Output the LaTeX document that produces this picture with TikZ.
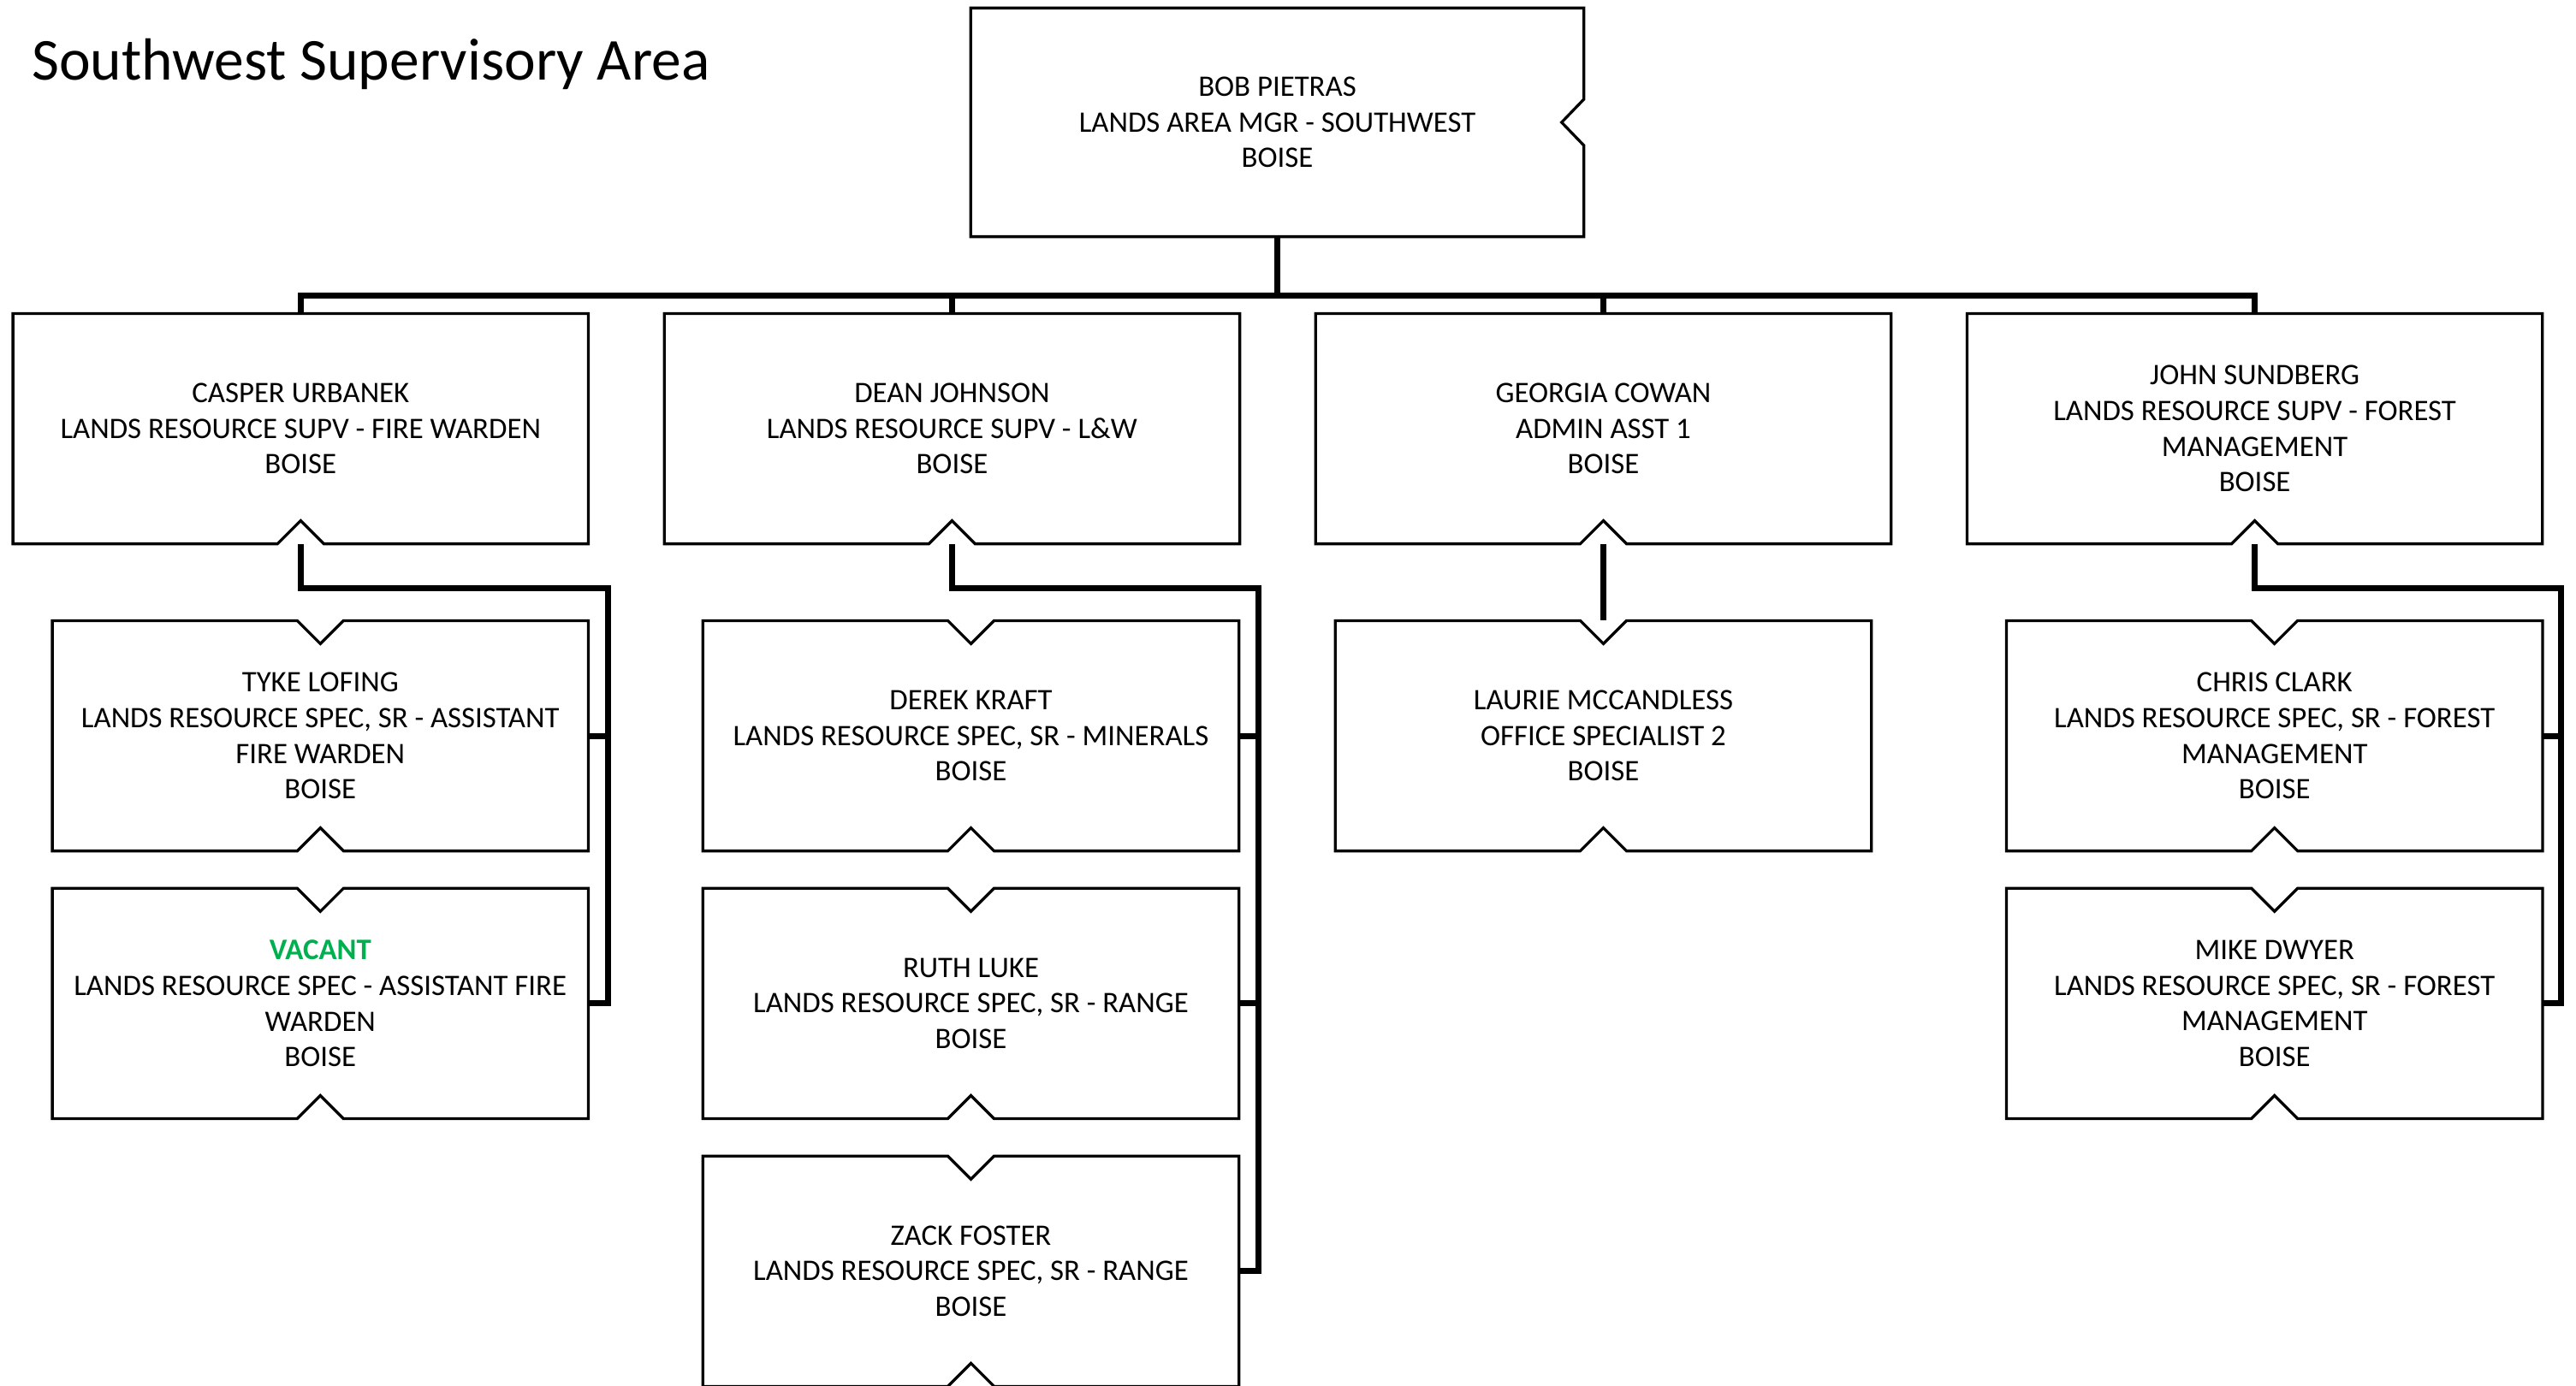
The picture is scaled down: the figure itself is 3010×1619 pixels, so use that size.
\documentclass[tikz,border=0pt]{standalone}
\usepackage{fontspec}
\setmainfont{Carlito}
\usetikzlibrary{calc}
\definecolor{vacgreen}{HTML}{00B050}
\newcommand\boxfont{\fontsize{34.8}{41.7}\selectfont}
\tikzset{
  orgbox/.style={inner sep=0pt, align=center, font=\boxfont, text=black},
  lvltwo/.style={orgbox, minimum width=672pt, minimum height=268.8pt},
  lvlthree/.style={orgbox, minimum width=626pt, minimum height=268.8pt},
  boxline/.style={draw=black, line width=3.3pt, line join=miter},
  conn/.style={draw=black, line width=7pt, line join=miter},
}
\newcommand\outlineB[1]{\draw[boxline] (#1.north west) -- (#1.north east) -- (#1.south east) -- ($(#1.south)+(27,0)$) -- ($(#1.south)+(0,-27)$) -- ($(#1.south)+(-27,0)$) -- (#1.south west) -- cycle;}
\newcommand\outlineTB[1]{\draw[boxline] (#1.north west) -- ($(#1.north)+(-27,0)$) -- ($(#1.north)+(0,27)$) -- ($(#1.north)+(27,0)$) -- (#1.north east) -- (#1.south east) -- ($(#1.south)+(27,0)$) -- ($(#1.south)+(0,-27)$) -- ($(#1.south)+(-27,0)$) -- (#1.south west) -- cycle;}
\newcommand\outlineR[1]{\draw[boxline] (#1.north west) -- (#1.north east) -- ($(#1.east)+(0,-27)$) -- ($(#1.east)+(-26,0)$) -- ($(#1.east)+(0,27)$) -- (#1.south east) -- (#1.south west) -- cycle;}
\begin{document}
\begin{tikzpicture}[x=1pt,y=-1pt]
\fill[white] (0,0) rectangle (3010,1619);
\useasboundingbox (0,0) rectangle (3010,1619);

% title
\node[anchor=base west, inner sep=0pt, font=\fontsize{69.5}{84}\selectfont] (title) at (37,93) {Southwest Supervisory Area};

% top box
\node[orgbox, minimum width=716pt, minimum height=266.8pt] (top) at (1492.5,143) {BOB PIETRAS\\LANDS AREA MGR - SOUTHWEST\\BOISE};

% level two
\node[lvltwo] (casper) at (351.3,501) {CASPER URBANEK\\LANDS RESOURCE SUPV - FIRE WARDEN\\BOISE};
\node[lvltwo] (dean) at (1112.4,501) {DEAN JOHNSON\\LANDS RESOURCE SUPV - L\&W\\BOISE};
\node[lvltwo] (georgia) at (1873.5,501) {GEORGIA COWAN\\ADMIN ASST 1\\BOISE};
\node[lvltwo] (john) at (2634.6,501) {JOHN SUNDBERG\\LANDS RESOURCE SUPV - FOREST\\MANAGEMENT\\BOISE};

% level three
\node[lvlthree] (tyke) at (374.3,860) {TYKE LOFING\\LANDS RESOURCE SPEC, SR - ASSISTANT\\FIRE WARDEN\\BOISE};
\node[lvlthree] (vacant) at (374.3,1172.9) {{\bfseries\color{vacgreen}VACANT}\\LANDS RESOURCE SPEC - ASSISTANT FIRE\\WARDEN\\BOISE};
\node[lvlthree] (derek) at (1134.5,860) {DEREK KRAFT\\LANDS RESOURCE SPEC, SR - MINERALS\\BOISE};
\node[lvlthree] (ruth) at (1134.5,1172.9) {RUTH LUKE\\LANDS RESOURCE SPEC, SR - RANGE\\BOISE};
\node[lvlthree] (zack) at (1134.5,1485.8) {ZACK FOSTER\\LANDS RESOURCE SPEC, SR - RANGE\\BOISE};
\node[lvlthree] (laurie) at (1873.5,860) {LAURIE MCCANDLESS\\OFFICE SPECIALIST 2\\BOISE};
\node[lvlthree] (chris) at (2657.7,860) {CHRIS CLARK\\LANDS RESOURCE SPEC, SR - FOREST\\MANAGEMENT\\BOISE};
\node[lvlthree] (mike) at (2657.7,1172.9) {MIKE DWYER\\LANDS RESOURCE SPEC, SR - FOREST\\MANAGEMENT\\BOISE};

% outlines
\outlineR{top}
\foreach \n in {casper,dean,georgia,john} {\outlineB{\n}}
\foreach \n in {tyke,vacant,derek,ruth,zack,laurie,chris,mike} {\outlineTB{\n}}

% connectors
\coordinate (busy) at (0,345.5);
\draw[conn] (top.south) -- (top.south |- busy);
\draw[conn] (casper.north) -- (casper.north |- busy) -- (john.north |- busy) -- (john.north);
\draw[conn] (dean.north |- busy) -- (dean.north);
\draw[conn] (georgia.north |- busy) -- (georgia.north);

\coordinate (cv) at ($(vacant.east)+(23,0)$);
\coordinate (dv) at ($(zack.east)+(23,0)$);
\coordinate (jv) at ($(mike.east)+(22,0)$);

\draw[conn] (casper.south) -- ++(0,52) -| (cv) -- (vacant.east);
\draw[conn] (tyke.east) -- (tyke.east -| cv);

\draw[conn] (dean.south) -- ++(0,52) -| (dv) -- (zack.east);
\draw[conn] (derek.east) -- (derek.east -| dv);
\draw[conn] (ruth.east) -- (ruth.east -| dv);

\draw[conn] (georgia.south) -- (laurie.north);

\draw[conn] (john.south) -- ++(0,52) -| (jv) -- (mike.east);
\draw[conn] (chris.east) -- (chris.east -| jv);
\end{tikzpicture}
\end{document}
